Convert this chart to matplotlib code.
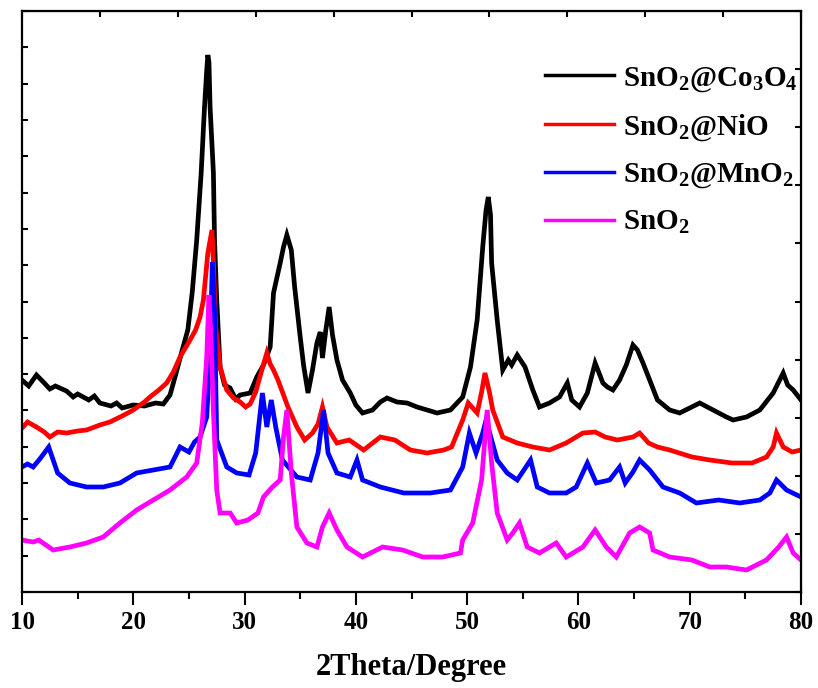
import numpy as np
import matplotlib
matplotlib.use('Agg')
import matplotlib.pyplot as plt

plt.rcParams['font.family'] = ['Liberation Serif', 'DejaVu Serif']
plt.rcParams['font.weight'] = 'bold'
plt.rcParams['mathtext.fontset'] = 'custom'
plt.rcParams['mathtext.rm'] = 'Liberation Serif:bold'
plt.rcParams['mathtext.bf'] = 'Liberation Serif:bold'
plt.rcParams['mathtext.it'] = 'Liberation Serif:bold'

# SnO2@Co3O4 (black), 2theta in degree, intensity in a.u.
x_co = [10.0, 10.6, 11.3, 12.0, 12.5, 13.0, 14.0, 14.6, 15.0, 16.0, 16.5, 17.0, 18.0, 18.5, 19.0,
        20.0, 21.0, 22.0, 22.7, 23.3, 23.8, 24.4, 24.9, 25.3, 25.7, 26.1, 26.4, 26.6, 26.7, 26.8,
        26.9, 27.2, 27.3, 27.5, 27.8, 28.2, 28.7, 29.2, 29.6, 30.5, 31.1, 31.7, 32.3, 32.6, 33.2,
        33.5, 33.8, 34.2, 34.5, 35.0, 35.3, 35.7, 36.1, 36.5, 36.8, 37.0, 37.3, 37.6, 37.9, 38.3,
        38.8, 39.5, 40.0, 40.6, 41.5, 42.2, 42.8, 43.7, 44.6, 45.5, 46.4, 47.3, 48.5, 49.6, 50.3,
        50.9, 51.4, 51.7, 51.9, 52.1, 52.2, 52.7, 53.2, 53.7, 54.0, 54.5, 55.2, 55.9, 56.5, 57.4,
        58.3, 59.0, 59.4, 60.1, 60.8, 61.5, 62.2, 62.6, 63.1, 63.7, 64.3, 64.9, 65.3, 65.8, 66.4,
        67.1, 68.2, 69.1, 70.0, 70.9, 72.1, 73.3, 73.9, 75.1, 76.3, 77.5, 78.4, 78.8, 79.3, 80.0]
y_co = [212, 206, 217, 209, 203, 206, 201, 195, 198, 192, 196, 189, 186, 189, 184,
        187, 186, 189, 188, 197, 217, 242, 262, 300, 352, 419, 485, 522, 537, 530,
        485, 419, 352, 292, 225, 207, 204, 193, 197, 199, 215, 227, 245, 299, 329,
        345, 357, 342, 305, 255, 227, 199, 222, 249, 260, 234, 262, 285, 257, 232,
        212, 199, 187, 179, 182, 190, 194, 190, 189, 185, 182, 179, 182, 195, 225,
        272, 345, 382, 395, 377, 329, 272, 222, 232, 227, 237, 225, 202, 185, 189,
        195, 209, 192, 185, 199, 229, 209, 205, 202, 212, 227, 247, 242, 229, 212,
        192, 182, 179, 184, 189, 182, 175, 172, 175, 182, 199, 219, 207, 202, 192]

# SnO2@NiO (red)
x_ni = [10.0, 10.5, 11.3, 12.0, 12.5, 13.2, 14.0, 15.0, 15.8, 17.0, 17.9, 19.0, 20.0, 21.0, 21.5,
        22.3, 23.0, 23.6, 24.2, 25.1, 25.6, 26.0, 26.3, 26.7, 27.07, 27.2, 27.4, 27.8, 28.4, 29.0,
        29.6, 30.1, 30.5, 31.0, 31.5, 32.0, 32.3, 32.6, 33.0, 33.9, 34.7, 35.4, 36.1, 36.6, 37.0,
        37.4, 38.3, 39.4, 40.7, 42.2, 43.5, 44.9, 46.4, 47.9, 48.6, 49.6, 50.1, 50.9, 51.3, 51.6,
        52.0, 52.3, 53.2, 54.5, 55.9, 57.4, 58.9, 60.4, 61.5, 62.4, 63.5, 64.9, 65.5, 66.3, 67.1,
        68.2, 70.2, 71.8, 73.8, 75.6, 76.9, 77.5, 77.8, 78.4, 79.2, 80.0]
y_ni = [164, 170, 165, 160, 155, 160, 159, 161, 162, 167, 170, 176, 182, 190, 195,
        202, 209, 220, 235, 252, 262, 275, 292, 339, 362, 330, 265, 225, 202, 194,
        190, 185, 188, 200, 220, 239, 228, 222, 212, 185, 165, 152, 159, 168, 185,
        165, 149, 152, 142, 155, 152, 142, 139, 142, 145, 172, 189, 179, 200, 219,
        200, 182, 155, 149, 145, 142, 149, 159, 160, 155, 152, 155, 159, 149, 145,
        142, 135, 132, 129, 129, 135, 145, 159, 145, 140, 142]

# SnO2@MnO2 (blue)
x_mn = [10.0, 10.5, 11.0, 11.6, 12.4, 12.8, 13.2, 14.3, 15.8, 17.3, 18.8, 20.3, 21.8, 23.3, 24.2,
        25.0, 25.5, 26.0, 26.6, 26.9, 27.1, 27.3, 27.5, 28.4, 29.3, 30.4, 31.0, 31.6, 32.0, 32.4,
        32.8, 33.4, 34.7, 35.9, 36.6, 37.1, 37.5, 38.3, 39.5, 40.1, 40.6, 42.2, 44.3, 46.7, 48.5,
        49.6, 50.2, 50.8, 51.4, 51.7, 52.7, 53.6, 54.5, 55.7, 56.3, 57.4, 58.9, 59.8, 60.8, 61.6,
        62.8, 63.7, 64.2, 64.9, 65.5, 66.4, 67.6, 69.1, 70.6, 72.6, 74.5, 76.3, 77.2, 77.8, 78.7,
        80.0]
y_mn = [125, 128, 125, 133, 145, 132, 119, 109, 105, 105, 109, 119, 122, 125, 145,
        140, 150, 155, 175, 240, 330, 280, 152, 125, 119, 117, 139, 199, 165, 192,
        165, 132, 115, 112, 139, 182, 139, 119, 115, 132, 112, 105, 99, 99, 102,
        125, 159, 139, 159, 172, 132, 119, 112, 132, 105, 99, 99, 105, 129, 109,
        112, 125, 109, 120, 132, 122, 105, 99, 89, 92, 89, 92, 99, 112, 102,
        95]

# SnO2 (magenta)
x_sn = [10.0, 11.0, 11.5, 12.8, 14.3, 15.8, 17.3, 18.8, 20.3, 21.8, 23.3, 24.8, 25.7, 26.2, 26.6,
        26.8, 27.0, 27.2, 27.5, 27.8, 28.7, 29.3, 30.3, 31.2, 31.7, 32.5, 33.2, 33.5, 33.8, 34.2,
        34.7, 35.6, 36.5, 37.0, 37.6, 38.3, 39.2, 40.6, 42.4, 44.2, 46.0, 47.8, 49.4, 49.6, 50.5,
        51.3, 51.8, 52.2, 52.7, 53.6, 54.1, 54.7, 55.4, 56.5, 58.0, 58.9, 60.4, 61.5, 62.5, 63.4,
        64.6, 65.5, 66.4, 66.7, 68.2, 70.2, 71.8, 73.3, 75.1, 76.9, 78.0, 78.7, 79.3, 80.0]
y_sn = [52, 50, 52, 42, 45, 49, 55, 69, 82, 92, 102, 115, 129, 169, 235,
        297, 250, 180, 102, 79, 79, 69, 72, 79, 95, 105, 112, 155, 182, 119,
        65, 49, 45, 65, 79, 62, 45, 35, 45, 42, 35, 35, 39, 52, 69,
        112, 182, 129, 79, 52, 59, 69, 45, 39, 49, 35, 45, 62, 45, 35,
        59, 65, 59, 42, 35, 32, 25, 25, 22, 32, 45, 55, 39, 32]

labels = [r'$\mathbf{SnO_2@Co_3O_4}$', r'$\mathbf{SnO_2@NiO}$',
          r'$\mathbf{SnO_2@MnO_2}$', r'$\mathbf{SnO_2}$']
colors = ['black', 'red', 'blue', 'magenta']

fig = plt.figure(figsize=(8.18, 6.88), dpi=100)
ax = fig.add_axes([22 / 818, 96 / 688, 779 / 818, 581 / 688])

for xs, ys, c, lab in zip([x_co, x_ni, x_mn, x_sn], [y_co, y_ni, y_mn, y_sn], colors, labels):
    ax.plot(xs, ys, color=c, lw=3.4, label=lab, solid_joinstyle='miter')

ax.set_xlim(10, 80)
ax.set_ylim(0, 581)
ax.set_xticks(np.arange(10, 81, 10))
ax.set_xticks(np.arange(15, 80, 10), minor=True)
ax.set_yticks(np.linspace(0, 581, 17))
ax.set_yticklabels([])
ax.tick_params(axis='x', which='major', direction='out', length=9, width=1.5, labelsize=18, pad=5)
ax.tick_params(axis='x', which='minor', direction='out', length=5, width=1.5)
ax.tick_params(axis='y', which='major', direction='in', length=4, width=1.5)
for lab in ax.get_xticklabels():
    lab.set_fontweight('bold')
for s in ax.spines.values():
    s.set_linewidth(1.6)

# extra tick marks on the top and right frame
top = ax.secondary_xaxis('top')
top.set_xticks(np.linspace(10, 80, 11))
top.tick_params(direction='in', length=4, width=1.5, labeltop=False)
right = ax.secondary_yaxis('right')
right.set_yticks(np.linspace(0, 581, 11))
right.tick_params(direction='in', length=4, width=1.5, labelright=False)

ax.set_xlabel('2Theta/Degree', fontsize=22, fontweight='bold', labelpad=13)

leg = ax.legend(loc='upper left', bbox_to_anchor=(0.672, 0.908), frameon=False, fontsize=21,
                handlelength=2.35, handletextpad=0.3, labelspacing=0.63, borderpad=0,
                borderaxespad=0)
for h in leg.get_lines():
    h.set_linewidth(2.5)

fig.savefig('out.png', dpi=100)
